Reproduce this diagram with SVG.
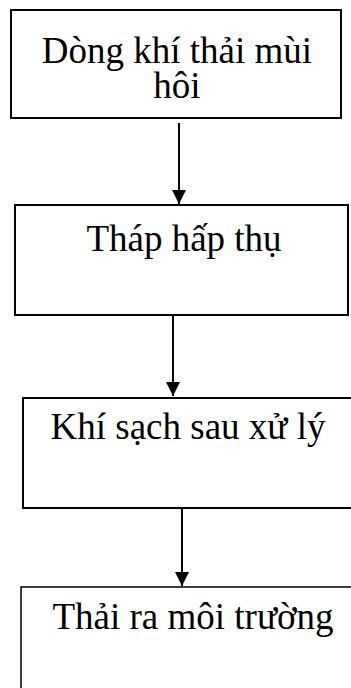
<svg xmlns="http://www.w3.org/2000/svg" width="351" height="688" viewBox="0 0 351 688">
<style>
.box{fill:#fff;stroke:#000;stroke-width:2}
.lbl{font-family:"Liberation Serif","Times New Roman",serif;font-size:37px;fill:#000;text-anchor:middle}
.conn{stroke:#000;stroke-width:2;fill:none}
</style>
<defs>
<marker id="ah" markerWidth="7" markerHeight="7.5" refX="7" refY="3.5" orient="auto" markerUnits="strokeWidth">
<path d="M0,0 L7,3.5 L0,7 Z" fill="#000"/>
</marker>
</defs>
<rect width="351" height="688" fill="#fff"/>
<g id="connectors">
<line class="conn" x1="179" y1="123" x2="179" y2="204" marker-end="url(#ah)"/>
<line class="conn" x1="173" y1="315" x2="173" y2="396" marker-end="url(#ah)"/>
<line class="conn" x1="182" y1="508" x2="182" y2="586" marker-end="url(#ah)"/>
</g>
<g id="n1">
<rect class="box" x="11" y="10" width="330" height="108"/>
<text class="lbl" x="177" y="63">Dòng khí thải mùi</text>
<text class="lbl" x="177" y="98">hôi</text>
</g>
<g id="n2">
<rect class="box" x="15" y="205" width="333" height="110"/>
<text class="lbl" x="184" y="251">Tháp hấp thụ</text>
</g>
<g id="n3">
<rect class="box" x="23" y="398" width="340" height="110"/>
<text class="lbl" x="188" y="439">Khí sạch sau xử lý</text>
</g>
<g id="n4">
<rect class="box" style="stroke-width:1.5" x="21" y="587" width="345" height="120"/>
<text class="lbl" x="193" y="629">Thải ra môi trường</text>
</g>
</svg>
